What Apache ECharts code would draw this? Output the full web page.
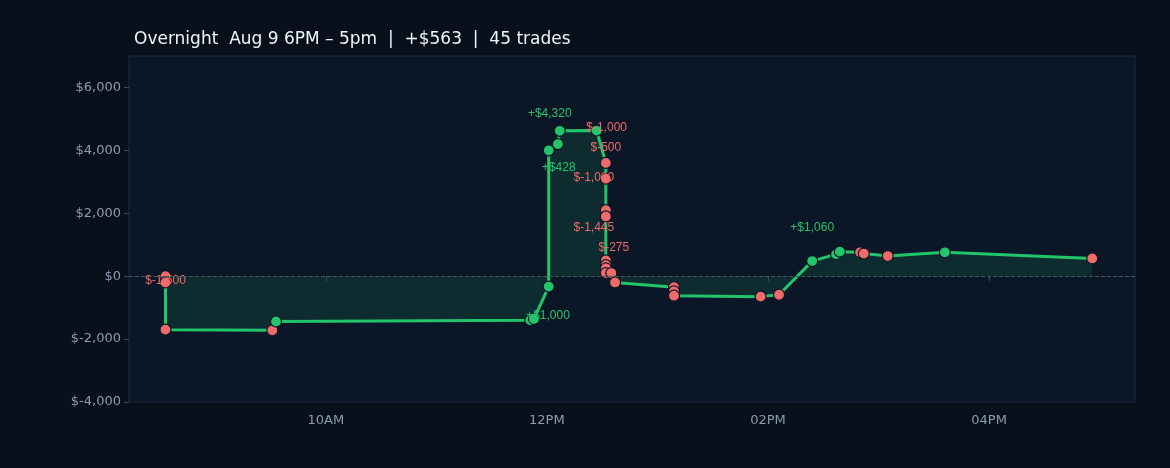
<!DOCTYPE html><html><head><meta charset="utf-8"><script src="https://cdn.jsdelivr.net/npm/echarts@6/dist/echarts.min.js"></script>
<style>html,body{margin:0;background:#07101b}#c{width:1170px;height:468px}</style></head><body><div id="c"></div><script>
const times=["08:33","08:33","08:33","09:31","09:33","11:51","11:53","12:01","12:01","12:06","12:07","12:27","12:32","12:32","12:32","12:32","12:32","12:32","12:32","12:32","12:35","12:37","13:09","13:09","13:09","13:56","14:06","14:24","14:37","14:39","14:50","14:52","15:05","15:36","16:56"];
const cum=[0,-200,-1700,-1720,-1440,-1400,-1360,-330,4000,4200,4620,4630,3600,3100,2100,1900,500,350,250,100,100,-200,-350,-480,-620,-650,-590,480,700,780,760,720,640,760,563];
const win=[0,0,0,0,1,1,1,1,1,1,1,1,0,0,0,0,0,0,0,0,0,0,0,0,0,0,0,1,1,1,0,0,0,1,0];
const labels={2:["$-1,500",0,-32],6:["+$1,000",14,14],10:["+$4,320",-10,0],11:["$-1,000",10,14],12:["$-500",0,2],8:["+$428",10,34],13:["$-1,000",-12,16],15:["$-1,445",-12,28],16:["$-275",8,4],27:["+$1,060",0,-16]};
const hr=t=>{const[a,b]=t.split(":").map(Number);return a+b/60;};
const data=times.map((t,i)=>{const it={value:[hr(t),cum[i]],itemStyle:{color:win[i]?'#22c56b':'#ef6b6b'}};
 if(labels[i]){it.label={show:true,position:'top',formatter:labels[i][0],offset:[labels[i][1],labels[i][2]],color:labels[i][0][0]=='+'?'#22c56b':'#ef6b6b',fontSize:12};}return it;});
const fmt=v=>({10:'10AM',12:'12PM',14:'02PM',16:'04PM'}[v]||'');
const c=echarts.init(document.getElementById('c'));
c.setOption({backgroundColor:'#07101b',
title:{text:'Overnight  Aug 9 6PM – 5pm  |  +$563  |  45 trades',left:129,top:26,textStyle:{color:'#f2f5f8',fontSize:17,fontWeight:'normal',fontFamily:'DejaVu Sans'}},
grid:{left:129,right:35,top:56,bottom:66,show:true,backgroundColor:'#0b1626',borderColor:'#1c2b3e',borderWidth:1},
xAxis:{type:'value',min:8.22,max:17.32,axisLine:{show:false},splitLine:{show:false},axisTick:{show:true,customValues:[10,12,14,16],lineStyle:{color:'#3a4a5c'}},axisLabel:{customValues:[10,12,14,16],formatter:fmt,color:'#8d9bb0',fontSize:13,fontFamily:'DejaVu Sans',margin:12}},
yAxis:{type:'value',min:-4000,max:7000,interval:2000,splitLine:{show:false},axisLine:{show:false},axisTick:{show:true,lineStyle:{color:'#3a4a5c'}},axisLabel:{showMaxLabel:false,color:'#8d9bb0',fontSize:13,fontFamily:'DejaVu Sans',formatter:v=>'$'+v.toLocaleString('en-US')}},
series:[{type:'line',data:data,symbol:'circle',symbolSize:11,lineStyle:{color:'#22c56b',width:3},itemStyle:{borderColor:'#0b1626',borderWidth:1.2},
areaStyle:{color:'rgba(24,110,80,0.35)',origin:0},
markLine:{silent:true,symbol:'none',label:{show:false},lineStyle:{color:'#3d5a5a',type:'dashed',width:1},data:[{yAxis:0}]}}]});
</script></body></html>
